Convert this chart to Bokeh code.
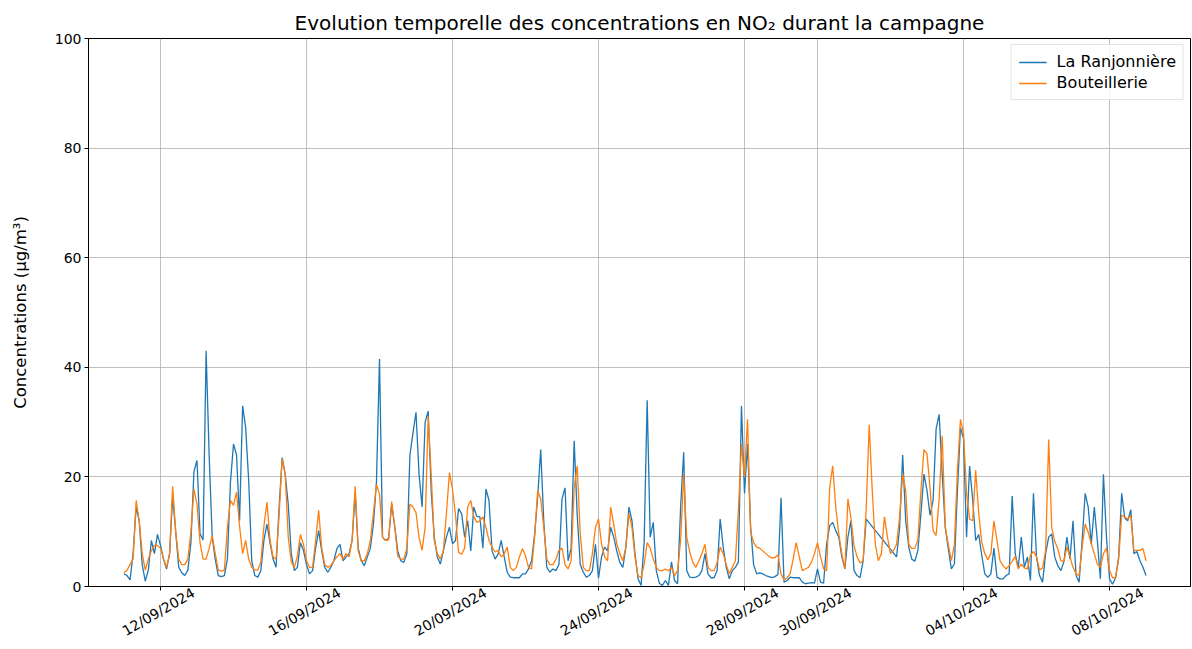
import math
import numpy as np
import pandas as pd
from bokeh.plotting import figure
from bokeh.models import (FixedTicker, Range1d, ColumnDataSource, LinearAxis,
                          CustomJSTickFormatter)
from bokeh.embed import file_html
from bokeh.resources import INLINE

# ---------------- data (2-hourly values from 11/09/2024 00:00) ----------------
start_time = "2024-09-11 00:00"
step = "2h"

# La Ranjonnière NO2 (µg/m³); None = missing
ranjonniere = [
    2.3, 2.0, 1.2, 6, 14.5, 12, 4, 1, 3, 8.4, 6, 9.5,            # 11/09
    7.5, 5, 3.2, 6, 16.5, 10, 3.5, 2.5, 2, 3, 8, 21,             # 12/09
    23, 9.6, 8.5, 43, 24, 9, 5, 2, 1.8, 2, 5, 19,                # 13/09
    26, 24, 12, 33, 29, 19.3, 4.7, 2, 1.7, 2.9, 8.4, 11.4,       # 14/09
    8, 5, 3.5, 14.5, 23.5, 20.5, 15, 6, 2.9, 3.5, 8, 6.6,        # 15/09
    4, 2.3, 2.9, 7, 10.2, 6.5, 3.5, 2.6, 3.5, 4.7, 6.9, 7.7,     # 16/09
    4.7, 5.4, 6, 8.4, 17, 7, 4.7, 3.8, 5.4, 7, 11.4, 19,         # 17/09
    41.5, 9, 8.4, 8.8, 15, 11, 6.5, 4.7, 4.4, 6, 24, 28,         # 18/09
    31.8, 20.5, 14.5, 30, 32, 17.5, 9, 5.4, 4.1, 6.5, 9, 10.8,   # 19/09
    7.8, 8.4, 14.2, 13.3, 9, 12, 6.5, 14.5, 12.8, 12.7, 7, 17.8, # 20/09
    15.7, 6.5, 5, 5.9, 8.4, 5.4, 2.6, 1.7, 1.6, 1.6, 1.6, 2.3,   # 21/09
    2.3, 3.2, 4.7, 9.5, 16.3, 25, 12, 3.5, 2.6, 3.2, 2.9, 4,     # 22/09
    16, 18, 4.7, 7, 26.6, 13, 4, 2.6, 1.7, 2, 2.9, 7.7,          # 23/09
    1.5, 5.4, 7.2, 6.5, 10.8, 9, 6.5, 4.4, 3.5, 7.2, 14.5, 12,   # 24/09
    6, 1.4, 0.2, 8, 34, 9, 11.7, 2.9, 0.6, 0.2, 1.1, 0.2,        # 25/09
    4.5, 1.1, 0.5, 14.5, 24.5, 2.9, 1.7, 1.6, 1.7, 2, 2.9, 6,    # 26/09
    2.3, 1.6, 1.6, 2.9, 12.3, 7.2, 3.5, 1.4, 2.9, 3.5, 4.5, 33,  # 27/09
    17, 26, 11, 4, 2.3, 2.5, 2.3, 2, 1.8, 1.6, 1.8, 2.2,         # 28/09
    16.2, 0.8, 1.1, 1.7, 1.6, 1.6, 1.6, 0.8, 0.5, 0.6, 0.7, 0.6, # 29/09
    3.2, 0.8, 0.6, 7.7, 11.1, 11.7, 10.2, 9, 5.4, 3.2, 9, 12,    # 30/09
    2.9, 2, 1.6, 4.7, 12.3, None, None, None, None, None, None, None,  # 01/10
    None, None, 5.4, 10.8, 24, 12, 7.2, 5, 4.6, 6.6, 13.3, 20.5, # 02/10
    17.5, 13, 15.7, 28.8, 31.4, 20.5, 10.8, 6.9, 3.2, 4.1, 17.5, 29,  # 03/10
    27, 9, 22, 16, 8.4, 9.5, 5.7, 2.3, 1.7, 2.3, 7, 1.7,         # 04/10
    1.4, 1.4, 2, 2.3, 16.5, 6, 3.5, 9, 3.5, 5.4, 1.1, 17,        # 05/10
    5.4, 2, 0.8, 6, 9, 9.6, 5.4, 3.8, 2.9, 4.5, 9, 5,            # 06/10
    12, 2, 0.8, 8.4, 17, 14.5, 7.7, 14.5, 8.4, 1.4, 20.5, 9,     # 07/10
    1.4, 0.4, 1.6, 5.4, 17, 12.5, 12, 14, 6, 6.4, 4.7, 3.5,      # 08/10
    2,                                                           # 09/10
]

# Bouteillerie NO2 (µg/m³)
bouteillerie = [
    2.5, 3, 4, 5, 15.7, 12, 6, 3, 5, 6.5, 7.5, 7.5,              # 11/09
    7, 5, 3.5, 6, 18.3, 10, 5, 4, 4, 5, 10, 17.8,                # 12/09
    15, 8, 5, 5, 7, 9.3, 6, 3, 2.8, 3, 10.8, 15.7,               # 13/09
    14.8, 17.2, 11, 6, 8.4, 5, 3.5, 3, 3, 4.5, 11, 15.4,         # 14/09
    8.5, 5.4, 5, 13, 23.3, 20.5, 9, 4.5, 3.5, 5.5, 9.5, 7.7,     # 15/09
    4.7, 3.5, 3.5, 8.4, 13.9, 7, 4, 3.5, 3.8, 4.7, 5.4, 6,       # 16/09
    5, 6, 5.4, 8.4, 18.3, 6.5, 4.7, 4.7, 6, 8.4, 13.4, 18.6,     # 17/09
    16.9, 9, 8.4, 8.5, 15.5, 11, 5.5, 5, 5, 7, 15, 14.5,         # 18/09
    13.5, 9, 6.6, 10.8, 31, 20.5, 8.4, 6, 5, 6.5, 13.3, 20.8,    # 19/09
    17.7, 13, 6.2, 5.9, 7, 14.5, 15.7, 12.8, 11.7, 12, 12.7, 10.8,  # 20/09
    8.4, 7.2, 6.3, 6.6, 5.4, 6, 7.2, 3.5, 2.9, 3.5, 5.4, 6.9,    # 21/09
    5.6, 3.5, 3.2, 9, 17.5, 16, 10.8, 5, 4, 4, 5, 6.6,           # 22/09
    7, 4, 3.2, 4.7, 18, 22, 9.6, 3.5, 2.9, 2.9, 6, 10.8,         # 23/09
    12.3, 7.8, 5.4, 4.7, 14.5, 11.4, 7.8, 6, 4.7, 7.2, 13.3, 10.8,  # 24/09
    5.4, 2, 1.6, 4, 8, 7, 5, 3.5, 2.9, 2.9, 3.2, 2.9,            # 25/09
    3.5, 2, 2.9, 8.4, 20.5, 9, 6.3, 4.4, 3.5, 4.7, 6, 7.7,       # 26/09
    3.5, 2.9, 2.9, 4.4, 7.2, 6, 4, 2.3, 3.5, 4.7, 14, 26,        # 27/09
    20, 30.5, 10, 8, 7.2, 7, 6.5, 6, 5.5, 5.2, 5.3, 5.8,         # 28/09
    2.3, 1.2, 1.6, 2.3, 5, 8, 5.4, 2.9, 3.2, 3.5, 4.4, 6,        # 29/09
    8, 5.4, 3.2, 2.9, 18, 22, 14.5, 9.6, 5.9, 3.2, 16, 12.5,     # 30/09
    7.5, 5.4, 4.3, 4.7, 14, 29.5, 17.5, 7.7, 4.7, 6, 12.7, 9,    # 01/10
    6, 6.6, 7.7, 12.7, 20.5, 17.5, 7.7, 6.9, 7, 8.5, 17.5, 25,   # 02/10
    24.2, 18, 10.2, 9.3, 16, 27.5, 10.8, 7.7, 4.7, 7.7, 21.2, 30.5,  # 03/10
    28, 17, 12.3, 12, 21.2, 13.3, 8.1, 6, 4.9, 6, 12, 8.4,       # 04/10
    4.7, 3.8, 3.2, 3.8, 4.6, 5.5, 3.2, 4.1, 3.4, 3.2, 5.7, 6.4,  # 05/10
    5.4, 3, 3.4, 6.6, 26.8, 10.8, 8.2, 6.9, 4.7, 4.6, 7.2, 5.4,  # 06/10
    3.5, 2.3, 2, 7.2, 11.4, 9.9, 7.8, 6, 4.1, 3.5, 6, 7,         # 07/10
    2.9, 1.6, 1.6, 5, 13, 12.7, 12.3, 13, 6.6, 6.6, 6.6, 6.9,    # 08/10
    4.7,                                                         # 09/10
]

series_names = ["La Ranjonnière", "Bouteillerie"]
series_colors = ["#1f77b4", "#ff7f0e"]

x_tick_labels = ["12/09/2024", "16/09/2024", "20/09/2024", "24/09/2024",
                 "28/09/2024", "30/09/2024", "04/10/2024", "08/10/2024"]
y_ticks = [0, 20, 40, 60, 80, 100]
x_limits = ["2024-09-10 00:40", "2024-10-10 05:15"]
y_limits = [0, 100]

title_text = "Evolution temporelle des concentrations en NO\u2082 durant la campagne"
y_label = "Concentrations (µg/m³)"

# ---------------- figure ----------------
FONT = "DejaVu Sans"
TICK_FS = "14px"
W, H = 1192, 649
BL, BR, BT, BB = 88, 2, 38, 63


def to_ms(ts):
    return pd.Timestamp(ts).value / 1e6


x0, x1 = to_ms(x_limits[0]), to_ms(x_limits[1])
p = figure(width=W, height=H, x_axis_type="datetime",
           x_range=Range1d(x0, x1), y_range=Range1d(*y_limits),
           output_backend="svg", toolbar_location=None,
           min_border_left=BL, min_border_right=BR, min_border_top=BT,
           min_border_bottom=BB)

p.title.text = title_text
p.title.align = "center"
p.title.text_font = FONT
p.title.text_font_size = "20px"
p.title.text_font_style = "normal"
p.title.text_color = "black"
p.title.standoff = 8

for name, vals, col in zip(series_names, [ranjonniere, bouteillerie], series_colors):
    t = pd.date_range(start_time, periods=len(vals), freq=step)
    df = pd.DataFrame({"t": t, "v": pd.Series(vals, dtype="float")}).dropna()
    src = ColumnDataSource(df)
    p.line("t", "v", source=src, color=col, line_width=1.3, legend_label=name)

# x axis: tick marks on the main axis, rotated labels centred on the ticks
tick_ms = [to_ms(pd.to_datetime(s, format="%d/%m/%Y")) for s in x_tick_labels]
p.xaxis.ticker = FixedTicker(ticks=tick_ms)
p.xaxis.formatter = CustomJSTickFormatter(code="return ''")
p.xaxis.major_label_text_font_size = "1px"
p.xaxis.major_label_standoff = 0

ms_per_px = (x1 - x0) / (W - BL - BR)
label_shift = 33 * ms_per_px   # right end of rotated label sits right of the tick
label_axis = LinearAxis(
    ticker=FixedTicker(ticks=[m + label_shift for m in tick_ms]),
    formatter=CustomJSTickFormatter(args=dict(labels=x_tick_labels),
                                    code="return labels[index]"),
    major_label_orientation=math.pi / 6,
    major_label_text_font=FONT, major_label_text_font_size=TICK_FS,
    major_label_text_color="black", major_label_standoff=1,
    axis_line_color=None, major_tick_line_color=None, minor_tick_line_color=None,
    major_tick_out=0, major_tick_in=0, minor_tick_out=0, minor_tick_in=0,
)
p.add_layout(label_axis, "below")

p.yaxis.ticker = FixedTicker(ticks=y_ticks)
p.yaxis.axis_label = y_label
p.yaxis.axis_label_standoff = 22
p.yaxis.major_label_text_font = FONT
p.yaxis.major_label_text_font_size = TICK_FS
p.yaxis.major_label_text_color = "black"
p.yaxis.major_label_standoff = 3
p.yaxis.axis_label_text_font = FONT
p.yaxis.axis_label_text_font_size = "16.5px"
p.yaxis.axis_label_text_font_style = "normal"
p.yaxis.axis_label_text_color = "black"

for ax in [p.xaxis[0], p.yaxis[0]]:
    ax.axis_line_color = "black"
    ax.major_tick_line_color = "black"
    ax.major_tick_out = 4
    ax.major_tick_in = 0
    ax.minor_tick_out = 0
    ax.minor_tick_in = 0

p.outline_line_color = "black"
p.outline_line_alpha = 1
p.outline_line_width = 1

for g in [p.xgrid[0], p.ygrid[0]]:
    g.grid_line_color = "#b0b0b0"
    g.grid_line_width = 0.8
p.xgrid[0].ticker = FixedTicker(ticks=tick_ms)
p.ygrid[0].ticker = FixedTicker(ticks=y_ticks)

lg = p.legend[0]
lg.location = "top_right"
lg.label_text_font = FONT
lg.label_text_font_size = "16px"
lg.label_text_color = "black"
lg.border_line_color = "#cccccc"
lg.background_fill_alpha = 0.8
lg.glyph_width = 28
lg.glyph_height = 18
lg.label_standoff = 10
lg.spacing = 2
lg.padding = 7
lg.margin = 6

open("out.html", "w").write(file_html(p, INLINE))
